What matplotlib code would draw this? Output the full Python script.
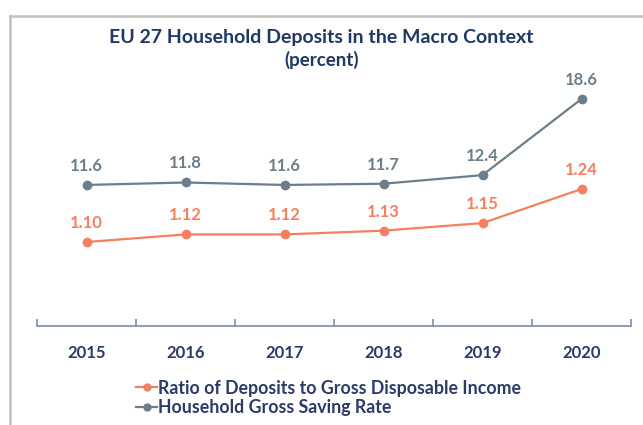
import numpy as np
import matplotlib
from matplotlib import pyplot as plt
from matplotlib.lines import Line2D

plt.rcParams['font.family'] = ['Lato', 'DejaVu Sans']

years = ['2015', '2016', '2017', '2018', '2019', '2020']
ratio = [1.10, 1.12, 1.12, 1.13, 1.15, 1.24]
saving = [11.6, 11.8, 11.6, 11.7, 12.4, 18.6]

ratio_labels = ['1.10', '1.12', '1.12', '1.13', '1.15', '1.24']
saving_labels = ['11.6', '11.8', '11.6', '11.7', '12.4', '18.6']

orange = '#F4805F'
grey = '#6C7E8B'
navy = '#1F3864'
axis_col = '#7D8CAE'

fig = plt.figure(figsize=(6.43, 4.25), dpi=100)
ax = fig.add_axes([37/643, 1 - 326/425, 594/643, 266/425])
ax2 = ax.twinx()

x = np.arange(len(years))
ax.plot(x, ratio, '-o', color=orange, lw=1.6, ms=6)
ax2.plot(x, saving, '-o', color=grey, lw=1.6, ms=6)

for i in range(len(x)):
    ax.annotate(ratio_labels[i], (x[i], ratio[i]), xytext=(0, 8), textcoords='offset points',
                ha='center', va='bottom', color=orange, fontsize=12, fontweight='bold')
    ax2.annotate(saving_labels[i], (x[i], saving[i]), xytext=(0, 8), textcoords='offset points',
                 ha='center', va='bottom', color=grey, fontsize=12, fontweight='bold')

ax.set_xlim(-0.5, 5.5)
ax.set_ylim(0.878, 1.581)
ax2.set_ylim(0.12, 21.77)

for a in (ax, ax2):
    for s in ('top', 'right', 'left'):
        a.spines[s].set_visible(False)
    a.set_yticks([])
ax2.spines['bottom'].set_visible(False)
ax.spines['bottom'].set_color(axis_col)
ax.spines['bottom'].set_linewidth(1.2)

ax.set_xticks(x)
ax.set_xticklabels(years, fontsize=12, fontweight='bold', color='#2B3A67')
ax.set_xticks(np.arange(-0.5, 6, 1), minor=True)
ax.tick_params(axis='x', which='major', length=0, pad=14)
ax.tick_params(axis='x', which='minor', direction='in', length=5, color=axis_col, width=1.2)

fig.text(0.5, 1 - 37/425, 'EU 27 Household Deposits in the Macro Context', ha='center', va='center',
         fontsize=14, fontweight='bold', color=navy)
fig.text(0.5, 1 - 60/425, '(percent)', ha='center', va='center',
         fontsize=13.5, fontweight='bold', color=navy)

handles = [Line2D([], [], color=orange, lw=1.6, marker='o', ms=5),
           Line2D([], [], color=grey, lw=1.6, marker='o', ms=5)]
leg = fig.legend(handles, ['Ratio of Deposits to Gross Disposable Income', 'Household Gross Saving Rate'],
                 loc='center left', bbox_to_anchor=(136/643, 1 - 398/425), frameon=False,
                 handlelength=1.2, handletextpad=0.05, labelspacing=0.15, borderpad=0,
                 borderaxespad=0, prop={'weight': 'bold', 'size': 12.8})
for t in leg.get_texts():
    t.set_color('#2B3A67')

# frame around the chart
fig.add_artist(Line2D([10/643, 10/643], [0, 1 - 16/425], color='#C0C0C0', lw=1.8))
fig.add_artist(Line2D([10/643, 1], [1 - 16/425, 1 - 16/425], color='#C0C0C0', lw=1.8))

fig.savefig('out.png', dpi=100)
